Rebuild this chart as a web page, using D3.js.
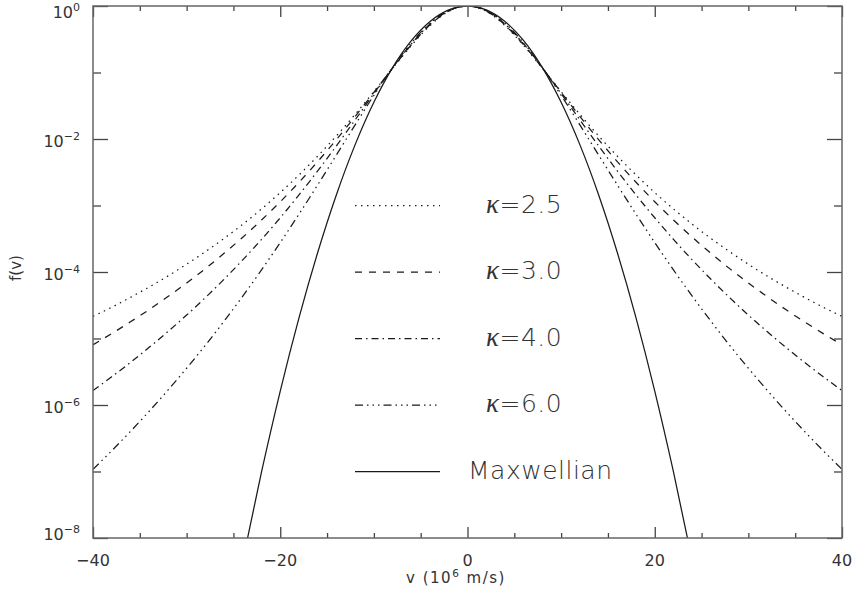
<!DOCTYPE html>
<html><head><meta charset="utf-8">
<script src="https://cdn.jsdelivr.net/npm/d3@7"></script>
<style>
html,body{margin:0;padding:0;background:#fff;}
svg{display:block;}
text{font-family:"DejaVu Sans",sans-serif;fill:#333;}
</style></head><body>
<svg id="chart" width="853" height="599"></svg>
<script>
// ---- data ----
const velocity = [-40,-38,-36,-34,-32,-30,-28,-26,-24,-22,-20,-18,-16,-14,-12,-10,-8,-6,-4,-2,0,2,4,6,8,10,12,14,16,18,20,22,24,26,28,30,32,34,36,38,40];
const kappa25 = [2.15e-5,2.95e-5,4.15e-5,5.95e-5,8.7e-5,1.31e-4,2.02e-4,3.2e-4,5.23e-4,8.87e-4,1.564e-3,2.880e-3,5.538e-3,1.115e-2,2.350e-2,5.152e-2,0.1154,0.2536,0.5083,0.8337,1,0.8337,0.5083,0.2536,0.1154,5.152e-2,2.350e-2,1.115e-2,5.538e-3,2.880e-3,1.564e-3,8.87e-4,5.23e-4,3.2e-4,2.02e-4,1.31e-4,8.7e-5,5.95e-5,4.15e-5,2.95e-5,2.15e-5];
const kappa30 = [8.05e-6,1.185e-5,1.78e-5,2.72e-5,4.27e-5,6.83e-5,1.124e-4,1.91e-4,3.34e-4,6.05e-4,1.138e-3,2.233e-3,4.577e-3,9.804e-3,2.189e-2,5.035e-2,0.1166,0.2603,0.5197,0.8404,1,0.8404,0.5197,0.2603,0.1166,5.035e-2,2.189e-2,9.804e-3,4.577e-3,2.233e-3,1.138e-3,6.05e-4,3.34e-4,1.91e-4,1.124e-4,6.83e-5,4.27e-5,2.72e-5,1.78e-5,1.185e-5,8.05e-6];
const kappa40 = [1.65e-6,2.66e-6,4.37e-6,7.36e-6,1.27e-5,2.25e-5,4.12e-5,7.79e-5,1.524e-4,3.09e-4,6.54e-4,1.442e-3,3.312e-3,7.897e-3,1.940e-2,4.828e-2,0.1180,0.2693,0.5348,0.8488,1,0.8488,0.5348,0.2693,0.1180,4.828e-2,1.940e-2,7.897e-3,3.312e-3,1.442e-3,6.54e-4,3.09e-4,1.524e-4,7.79e-5,4.12e-5,2.25e-5,1.27e-5,7.36e-6,4.37e-6,2.66e-6,1.65e-6];
const kappa60 = [1.08e-7,2.05e-7,4.01e-7,8.05e-7,1.67e-6,3.57e-6,7.91e-6,1.82e-5,4.34e-5,1.075e-4,2.77e-4,7.41e-4,2.044e-3,5.762e-3,1.633e-2,4.537e-2,0.1189,0.2791,0.5510,0.8574,1,0.8574,0.5510,0.2791,0.1189,4.537e-2,1.633e-2,5.762e-3,2.044e-3,7.41e-4,2.77e-4,1.075e-4,4.34e-5,1.82e-5,7.91e-6,3.57e-6,1.67e-6,8.05e-7,4.01e-7,2.05e-7,1.08e-7];
const maxwellVelocity = [-26,-24,-22,-20,-18,-16,-14,-12,-10,-8,-6,-4,-2,0,2,4,6,8,10,12,14,16,18,20,22,24,26];
const maxwellian = [1.63e-10,4.58e-9,9.84e-8,1.62e-6,2.04e-5,1.968e-4,1.455e-3,8.230e-3,3.567e-2,0.1185,0.3012,0.5866,0.8752,1,0.8752,0.5866,0.3012,0.1185,3.567e-2,8.230e-3,1.455e-3,1.968e-4,2.04e-5,1.62e-6,9.84e-8,4.58e-9,1.63e-10];
const seriesLabels = [["κ","=2.5"],["κ","=3.0"],["κ","=4.0"],["κ","=6.0"],["","Maxwellian"]];
const xMajorTicks = [-40,-20,0,20,40];
const xMinorTicks = [-35,-30,-25,-15,-10,-5,5,10,15,25,30,35];
const yMajorExponents = [0,-2,-4,-6,-8];
const yMinorExponents = [-1,-3,-5,-7];
const legendExponents = [-3,-4,-5,-6,-7];
const xTitle = ["v (10","6"," m/s)"];
const yTitle = "f(v)";

// ---- layout ----
const L = 93, R = 842, T = 6, B = 538;
const svg = d3.select("#chart");
const x = d3.scaleLinear().domain([-40,40]).range([L,R]);
const y = d3.scaleLog().domain([1e-8,1]).range([B,T]);

const dashes = ["1.5,4.5","7,7","7,4,1.5,4","8,4,1.5,4,1.5,4,1.5,4",null];
const seriesData = [
  velocity.map((v,i)=>[v,kappa25[i]]),
  velocity.map((v,i)=>[v,kappa30[i]]),
  velocity.map((v,i)=>[v,kappa40[i]]),
  velocity.map((v,i)=>[v,kappa60[i]]),
  maxwellVelocity.map((v,i)=>[v,maxwellian[i]])
];

svg.append("defs").append("clipPath").attr("id","clip")
  .append("rect").attr("x",L).attr("y",T).attr("width",R-L).attr("height",B-T);

const line = d3.line().x(d=>x(d[0])).y(d=>y(d[1])).curve(d3.curveMonotoneX);
const plot = svg.append("g").attr("clip-path","url(#clip)");
seriesData.forEach((d,i)=>{
  plot.append("path").datum(d).attr("d",line)
    .attr("fill","none").attr("stroke","#1a1a1a").attr("stroke-width",1.25)
    .attr("stroke-dasharray",dashes[i]);
});

// axes (ticks inward)
function styleAxis(g){ g.select(".domain").remove(); g.selectAll(".tick line").attr("stroke","#444").attr("stroke-width",1.3); g.selectAll(".tick text").remove(); }
svg.append("g").attr("transform",`translate(0,${B})`).call(d3.axisBottom(x).tickValues(xMajorTicks).tickSize(-11).tickFormat("")).call(styleAxis);
svg.append("g").attr("transform",`translate(0,${B})`).call(d3.axisBottom(x).tickValues(xMinorTicks).tickSize(-5).tickFormat("")).call(styleAxis);
svg.append("g").attr("transform",`translate(0,${T})`).call(d3.axisTop(x).tickValues(xMajorTicks).tickSize(-11).tickFormat("")).call(styleAxis);
svg.append("g").attr("transform",`translate(0,${T})`).call(d3.axisTop(x).tickValues(xMinorTicks).tickSize(-5).tickFormat("")).call(styleAxis);
const yMaj = yMajorExponents.map(e=>Math.pow(10,e));
const yMin = yMinorExponents.map(e=>Math.pow(10,e));
svg.append("g").attr("transform",`translate(${L},0)`).call(d3.axisLeft(y).tickValues(yMaj).tickSize(-15).tickFormat("")).call(styleAxis);
svg.append("g").attr("transform",`translate(${L},0)`).call(d3.axisLeft(y).tickValues(yMin).tickSize(-8).tickFormat("")).call(styleAxis);
svg.append("g").attr("transform",`translate(${R},0)`).call(d3.axisRight(y).tickValues(yMaj).tickSize(-15).tickFormat("")).call(styleAxis);
svg.append("g").attr("transform",`translate(${R},0)`).call(d3.axisRight(y).tickValues(yMin).tickSize(-8).tickFormat("")).call(styleAxis);

// frame
svg.append("rect").attr("x",L).attr("y",T).attr("width",R-L).attr("height",B-T)
  .attr("fill","none").attr("stroke","#666").attr("stroke-width",1.5);

// x tick labels
const fmt = d3.format("d");
svg.append("g").selectAll("text").data(xMajorTicks).join("text")
  .attr("x",d=>x(d)).attr("y",566).attr("text-anchor","middle")
  .style("font-size","16px").text(d=>fmt(d));

// y tick labels
const yLab = svg.append("g").selectAll("text").data(yMajorExponents).join("text")
  .attr("x",80).attr("y",(e,i)=>y(Math.pow(10,e)) + (i===0?12:(i===yMajorExponents.length-1?2:8)))
  .attr("text-anchor","end").style("font-size","16px");
yLab.append("tspan").text("10");
yLab.append("tspan").attr("dy",-7).style("font-size","11px").text(e=>fmt(e));

// axis titles
const xt = svg.append("text").attr("x",456).attr("y",583).attr("text-anchor","middle")
  .style("font-size","15px").style("letter-spacing","1.5px");
xt.append("tspan").text(xTitle[0]);
xt.append("tspan").attr("dy",-6).style("font-size","10.5px").text(xTitle[1]);
xt.append("tspan").attr("dy",6).text(xTitle[2]);
svg.append("text").attr("transform","translate(21,268) rotate(-90)").attr("text-anchor","middle")
  .style("font-size","15px").text(yTitle);

// legend
const lg = svg.append("g");
seriesLabels.forEach((lab,i)=>{
  const ly = y(Math.pow(10,legendExponents[i]));
  lg.append("line").attr("x1",355).attr("x2",440).attr("y1",ly).attr("y2",ly)
    .attr("stroke","#1a1a1a").attr("stroke-width",1.25).attr("stroke-dasharray",dashes[i]);
  const t = lg.append("text").attr("x", i===4 ? 468 : 486).attr("y",ly+7)
    .style("font-size","25px").style("font-weight","200").style("letter-spacing","0.5px");
  if (lab[0]) t.append("tspan").style("font-family","'Liberation Serif',serif")
    .style("font-style","italic").style("font-weight","normal").style("font-size","27px").text(lab[0]);
  t.append("tspan").text(lab[1]);
});
</script>
</body></html>
